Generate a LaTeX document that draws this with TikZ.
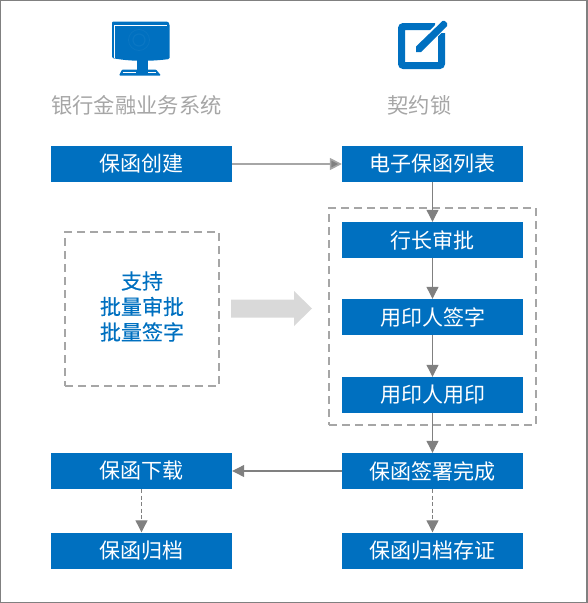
\documentclass[tikz,border=0pt]{standalone}
\usepackage{fontspec}
\setmainfont{Noto Sans CJK SC}
\newfontfamily\heavycjk[FakeBold=0.3]{Noto Sans CJK SC}
\usetikzlibrary{arrows.meta}
\definecolor{bluebox}{HTML}{0070C0}
\definecolor{arrowgray}{HTML}{808080}
\definecolor{dashgray}{HTML}{A6A6A6}
\tikzset{
  x=1pt,y=-1pt,
  stepbox/.style={fill=bluebox,text=white,inner sep=0pt,minimum width=181pt,minimum height=36pt,font=\fontsize{21}{21}\selectfont,anchor=center,execute at begin node=\hspace*{0.5pt}},
  headtext/.style={text=dashgray,inner sep=0pt,font=\fontsize{21.3}{21}\selectfont},
  bluetext/.style={text=bluebox,inner sep=0pt,font=\heavycjk\fontsize{21}{21}\selectfont,align=center},
  conn/.style={draw=arrowgray,line width=1.1pt,-{Triangle[length=12pt,width=12pt,fill=arrowgray]}},
  connl/.style={draw=arrowgray!70,line width=1.6pt,-{Triangle[length=12pt,width=12pt,fill=arrowgray]}},
  dconn/.style={conn,dash pattern=on 4pt off 2.5pt},
  dbox/.style={draw=dashgray,line width=2pt,dash pattern=on 8pt off 5pt},
}
\begin{document}
\begin{tikzpicture}
\useasboundingbox (0,0) rectangle (587,603);
\draw[draw=arrowgray,line width=2pt] (0,0) rectangle (587,603);
% monitor icon
\fill[bluebox,rounded corners=1.2pt] (112,21.5) -- (168,21.5) -- (169.5,24) -- (169.5,59) .. controls (150,61.5) and (130,61.5) .. (112,58) -- cycle;
\draw[white,line width=0.8pt] (114,25) -- (167,25);
\draw[white,line width=0.8pt] (114.5,25) -- (114.5,57.5);
\draw[white!4!bluebox,line width=1.2pt] (139,40) circle (6pt);
\draw[white!4!bluebox,line width=0.8pt] (139,40) circle (10.5pt);
\fill[bluebox] (136.5,60) rectangle (147.5,71);
\fill[bluebox,rounded corners=1pt] (122,69.5) -- (156,69.5) -- (161,75.5) -- (119,75.5) -- cycle;
\draw[white,line width=0.7pt] (122.5,72) -- (136,72) (148,72) -- (156,72);
% edit icon
\draw[bluebox,line width=7pt,rounded corners=2pt] (435,26.5) -- (401.5,26.5) -- (401.5,65.5) -- (441.5,65.5) -- (441.5,33);
\draw[white,line width=10pt] (412,56) -- (450,17);
\fill[bluebox] (416,52) -- (416,46.5) -- (442.5,21) .. controls (444,20) and (445,21) .. (447,23) -- (447,26) -- (421,52) -- cycle;
% headers
\node[headtext] (h1) at (136.5,105) {银行金融业务系统};
\node[headtext] (h2) at (419.5,105) {契约锁};
% dashed boxes
\node[dbox,inner sep=0pt,minimum width=207pt,minimum height=217pt] (group) at (432.5,316.5) {};
\node[dbox,inner sep=0pt,minimum width=154pt,minimum height=154pt] (note) at (142,309) {};
\node[bluetext] (t1) at (142,281) {支持};
\node[bluetext] (t2) at (142,306.5) {批量审批};
\node[bluetext] (t3) at (142,332) {批量签字};
% big arrow
\fill[gray!30] (231,299.5) -- (294,299.5) -- (294,291) -- (312,308.5) -- (294,326) -- (294,317.5) -- (231,317.5) -- cycle;
% boxes
\node[stepbox] (a1) at (141.5,164) {保函创建};
\node[stepbox] (b1) at (432.5,164) {电子保函列表};
\node[stepbox] (b2) at (432.5,240) {行长审批};
\node[stepbox] (b3) at (432.5,317) {用印人签字};
\node[stepbox] (b4) at (432.5,395) {用印人用印};
\node[stepbox] (b5) at (432.5,471) {保函签署完成};
\node[stepbox] (a2) at (141.5,471) {保函下载};
\node[stepbox] (a3) at (141.5,550.5) {保函归档};
\node[stepbox] (b6) at (432.5,550.5) {保函归档存证};
% connectors
\draw[connl] (a1) -- (b1);
\draw[conn] (b1) -- (b2);
\draw[conn] (b2) -- (b3);
\draw[conn] (b3) -- (b4);
\draw[conn] (b4) -- (b5);
\draw[conn] (b5) -- (a2);
\draw[dconn] (a2) -- (a3);
\draw[dconn] (b5) -- (b6);
\end{tikzpicture}
\end{document}
